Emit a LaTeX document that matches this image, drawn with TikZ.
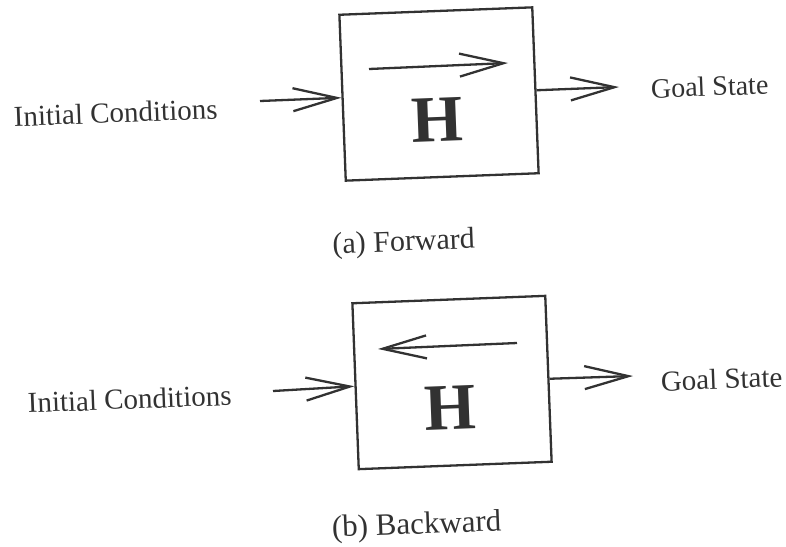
\documentclass[tikz,border=0pt]{standalone}
\usepackage{fontspec}
\setmainfont{Liberation Serif}
\usetikzlibrary{arrows.meta}
\definecolor{ink}{RGB}{50,50,50}
\tikzset{
  arr/.style={draw=ink, line width=2.3pt, -{Straight Barb[length=44pt,width=23pt]}},
  hbox/.style={draw=ink, line width=2.3pt, minimum width=193pt, minimum height=166pt, inner sep=0pt, rotate=2.2},
  lbl/.style={text=ink, inner sep=0pt, anchor=base, rotate=2.2},
  bigh/.style={text=ink, inner sep=0pt, anchor=center, rotate=2.2, font=\fontsize{66}{70}\selectfont\bfseries},
}
\begin{document}
\begin{tikzpicture}[x=1pt,y=-1pt]
\useasboundingbox (0,0) rectangle (786,546);
% (a) Forward
\node[hbox] (boxa) at (439,94) {};
\node[bigh] (ha) at (437,120) {H};
\coordinate (ina) at (260,101);
\coordinate (outa) at (619,87);
\coordinate (fwa1) at (369,69);
\coordinate (fwa2) at (508,63);
\node[lbl, font=\fontsize{29}{34}\selectfont] (ica) at (116,122.5) {Initial Conditions};
\node[lbl, font=\fontsize{28}{32}\selectfont] (gsa) at (710,96) {Goal State};
\node[lbl, font=\fontsize{30}{34}\selectfont] (capa) at (404,251) {(a) Forward};
\draw[arr] (ina) -- (boxa.west);
\draw[arr] (boxa.east) -- (outa);
\draw[arr] (fwa1) -- (fwa2);
% (b) Backward
\node[hbox] (boxb) at (452,382.5) {};
\node[bigh] (hb) at (450,408) {H};
\coordinate (inb) at (273,391);
\coordinate (outb) at (633,376);
\coordinate (bwb1) at (517,343);
\coordinate (bwb2) at (378,349);
\node[lbl, font=\fontsize{29}{34}\selectfont] (icb) at (130,409) {Initial Conditions};
\node[lbl, font=\fontsize{29}{32}\selectfont] (gsb) at (722,389) {Goal State};
\node[lbl, font=\fontsize{31}{34}\selectfont] (capb) at (417,534) {(b) Backward};
\draw[arr] (inb) -- (boxb.west);
\draw[arr] (boxb.east) -- (outb);
\draw[arr] (bwb1) -- (bwb2);
\end{tikzpicture}
\end{document}
